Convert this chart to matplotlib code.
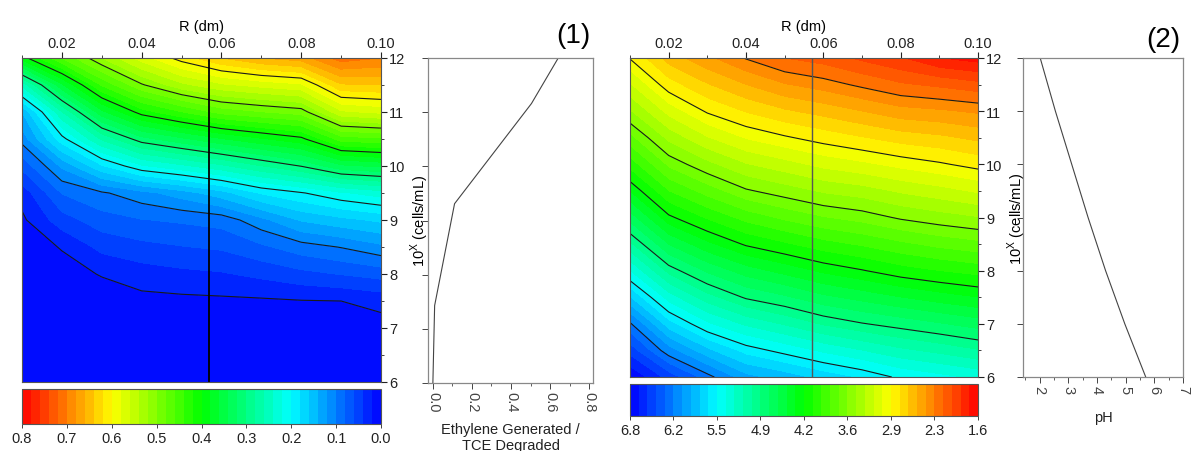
import numpy as np
import matplotlib
matplotlib.use('Agg')
import matplotlib.pyplot as plt
from matplotlib.colors import LinearSegmentedColormap
from matplotlib.ticker import MultipleLocator

plt.rcParams['font.family'] = ['Liberation Sans', 'DejaVu Sans']
plt.rcParams['mathtext.fontset'] = 'custom'
plt.rcParams['mathtext.rm'] = 'Liberation Sans'

# ---------------- data ----------------
R_dm = [0.01, 0.02, 0.03, 0.04, 0.05, 0.06, 0.07, 0.08, 0.09, 0.10]
log_cells = [6.0, 6.5, 7.0, 7.5, 8.0, 8.5, 9.0, 9.5, 10.0, 10.5, 11.0, 11.5, 12.0]

# Panel (1): ethylene generated / TCE degraded (rows = log_cells, cols = R_dm)
ratio_grid = [
    [0.000, 0.000, 0.000, 0.000, 0.000, 0.000, 0.000, 0.000, 0.000, 0.000],
    [0.000, 0.000, 0.002, 0.003, 0.003, 0.003, 0.003, 0.004, 0.004, 0.005],
    [0.001, 0.002, 0.006, 0.008, 0.008, 0.008, 0.009, 0.010, 0.011, 0.012],
    [0.005, 0.008, 0.012, 0.014, 0.015, 0.016, 0.017, 0.019, 0.020, 0.026],
    [0.008, 0.014, 0.021, 0.030, 0.035, 0.038, 0.045, 0.054, 0.061, 0.068],
    [0.012, 0.021, 0.046, 0.054, 0.059, 0.063, 0.076, 0.091, 0.101, 0.115],
    [0.016, 0.051, 0.071, 0.079, 0.083, 0.088, 0.114, 0.142, 0.154, 0.164],
    [0.028, 0.081, 0.097, 0.113, 0.130, 0.152, 0.182, 0.198, 0.217, 0.230],
    [0.066, 0.124, 0.177, 0.217, 0.235, 0.255, 0.279, 0.301, 0.335, 0.344],
    [0.108, 0.192, 0.263, 0.312, 0.335, 0.358, 0.377, 0.394, 0.449, 0.456],
    [0.140, 0.259, 0.354, 0.410, 0.439, 0.467, 0.479, 0.489, 0.556, 0.565],
    [0.246, 0.356, 0.442, 0.497, 0.534, 0.556, 0.567, 0.576, 0.637, 0.640],
    [0.390, 0.460, 0.520, 0.570, 0.610, 0.640, 0.660, 0.670, 0.710, 0.700],
]

# Panel (2): pH (rows = log_cells, cols = R_dm)
ph_grid = [
    [6.78, 6.47, 6.20, 5.92, 5.82, 5.70, 5.60, 5.47, 5.40, 5.33],
    [6.47, 6.07, 5.78, 5.57, 5.45, 5.33, 5.23, 5.13, 5.06, 4.98],
    [6.17, 5.67, 5.38, 5.20, 5.08, 4.95, 4.86, 4.79, 4.72, 4.65],
    [5.75, 5.29, 5.02, 4.83, 4.73, 4.61, 4.53, 4.45, 4.38, 4.32],
    [5.35, 4.92, 4.68, 4.51, 4.40, 4.29, 4.21, 4.12, 4.06, 4.01],
    [4.99, 4.57, 4.35, 4.18, 4.08, 3.98, 3.91, 3.83, 3.76, 3.71],
    [4.64, 4.23, 4.04, 3.88, 3.77, 3.68, 3.62, 3.53, 3.47, 3.42],
    [4.31, 3.93, 3.74, 3.57, 3.48, 3.39, 3.34, 3.26, 3.20, 3.13],
    [4.00, 3.64, 3.45, 3.29, 3.20, 3.11, 3.05, 2.98, 2.92, 2.85],
    [3.71, 3.37, 3.16, 3.01, 2.92, 2.84, 2.77, 2.70, 2.66, 2.60],
    [3.42, 3.10, 2.88, 2.75, 2.65, 2.58, 2.50, 2.42, 2.39, 2.35],
    [3.16, 2.82, 2.64, 2.50, 2.38, 2.31, 2.22, 2.13, 2.08, 2.02],
    [2.89, 2.57, 2.40, 2.24, 2.11, 2.05, 1.95, 1.86, 1.72, 1.66],
]

# Profiles along R = 0.057 dm
R_profile = 0.057
profile1_cells = [6.0, 7.43, 9.31, 11.16, 12.0]
profile1_ratio = [0.0, 0.009, 0.111, 0.505, 0.642]
profile2_cells = [6.0, 7.0, 8.0, 9.0, 10.0, 11.0, 12.0]
profile2_ph = [5.70, 4.97, 4.30, 3.69, 3.12, 2.55, 2.02]

# colour-scale settings
ratio_fill_levels = np.linspace(0.0, 0.8, 41)
ratio_line_levels = [0.02, 0.1, 0.2, 0.3, 0.4, 0.5, 0.6]
ratio_cbar_ticks = [0.8, 0.7, 0.6, 0.5, 0.4, 0.3, 0.2, 0.1, 0.0]
ratio_cbar_labels = ['0.8', '0.7', '0.6', '0.5', '0.4', '0.3', '0.2', '0.1', '0.0']

ph_fill_levels = np.linspace(1.6, 6.8, 41)
ph_line_levels = [2.25, 2.9, 3.55, 4.2, 4.85, 5.5, 6.15]
ph_cbar_ticks = [6.8, 6.15, 5.5, 4.85, 4.2, 3.55, 2.9, 2.25, 1.6]
ph_cbar_labels = ['6.8', '6.2', '5.5', '4.9', '4.2', '3.6', '2.9', '2.3', '1.6']

R_ticks = [0.02, 0.04, 0.06, 0.08, 0.10]
R_labels = ['0.02', '0.04', '0.06', '0.08', '0.10']
cell_ticks = [6, 7, 8, 9, 10, 11, 12]

# ---------------- figure ----------------
W, H = 1193, 452
fig = plt.figure(figsize=(W / 100, H / 100), dpi=100)

rainbow = LinearSegmentedColormap.from_list(
    'rb', ['#0000ff', '#00ffff', '#00ff00', '#ffff00', '#ff0000'])

FS = 10.5
ylab = '10$^{\\mathregular{X}}$ (cells/mL)'


def px_axes(x0, y0, x1, y1):
    return fig.add_axes([x0 / W, 1 - y1 / H, (x1 - x0) / W, (y1 - y0) / H])


def style_contour_axes(ax, vline_color, vline_lw):
    ax.axvline(R_profile, color=vline_color, lw=vline_lw)
    ax.set_xlim(0.01, 0.10)
    ax.set_ylim(6, 12)
    ax.xaxis.tick_top()
    ax.xaxis.set_label_position('top')
    ax.set_xticks(R_ticks)
    ax.set_xticklabels(R_labels)
    ax.xaxis.set_minor_locator(MultipleLocator(0.01))
    ax.set_xlabel('R (dm)', fontsize=FS, labelpad=4)
    ax.yaxis.tick_right()
    ax.yaxis.set_label_position('right')
    ax.set_yticks(cell_ticks)
    ax.yaxis.set_minor_locator(MultipleLocator(0.5))
    ax.set_ylabel(ylab, fontsize=FS, labelpad=2)
    ax.tick_params(which='both', direction='out', labelsize=FS, colors='#222222',
                   top=True, bottom=False, left=False, right=True)
    ax.tick_params(which='major', length=4, width=0.8, pad=2)
    ax.tick_params(which='minor', length=2.5, width=0.6)
    for s in ax.spines.values():
        s.set_color('#555555')
        s.set_linewidth(0.8)


def style_side_axes(ax, xlim, xticks, xlabels, minor, xlabel, lpad):
    ax.set_ylim(6, 12)
    ax.set_xlim(*xlim)
    ax.set_yticks(cell_ticks)
    ax.set_yticklabels([])
    ax.set_xticks(xticks)
    ax.set_xticklabels(xlabels, rotation=-90)
    ax.xaxis.set_minor_locator(MultipleLocator(minor))
    ax.tick_params(which='both', direction='out', labelsize=FS, colors='#444444')
    ax.tick_params(which='major', length=4, width=0.7, pad=2)
    ax.tick_params(which='minor', length=2.5, width=0.6)
    ax.set_xlabel(xlabel, fontsize=FS, labelpad=lpad, color='#222222')
    for s in ax.spines.values():
        s.set_color('#888888')
        s.set_linewidth(0.9)


# ---- panel (1) ----
ax1 = px_axes(22, 59, 381, 383)
cf1 = ax1.contourf(R_dm, log_cells, ratio_grid, levels=ratio_fill_levels,
                   cmap=rainbow, extend='neither')
ax1.contour(R_dm, log_cells, ratio_grid, levels=ratio_line_levels,
            colors='#1a1a1a', linewidths=0.8)
style_contour_axes(ax1, 'black', 1.3)

cax1 = px_axes(22, 390, 381, 425)
cb1 = fig.colorbar(cf1, cax=cax1, orientation='horizontal')
cb1.set_ticks(ratio_cbar_ticks, labels=ratio_cbar_labels)
cax1.invert_xaxis()
cax1.tick_params(labelsize=FS, length=3, width=0.6, pad=2, colors='#222222')
cb1.outline.set_edgecolor('#555555')
cb1.outline.set_linewidth(0.8)

side1 = px_axes(428, 59, 593, 384)
side1.plot(profile1_ratio, profile1_cells, color='#444444', lw=0.8)
style_side_axes(side1, (-0.025, 0.82), [0.0, 0.2, 0.4, 0.6, 0.8],
                ['0.0', '0.2', '0.4', '0.6', '0.8'], 0.1,
                'Ethylene Generated /\nTCE Degraded', 7)
fig.text(573 / W, 1 - 36 / H, '(1)', fontsize=20, ha='center', va='center')

# ---- panel (2) ----
ax2 = px_axes(630, 59, 978, 378)
cf2 = ax2.contourf(R_dm, log_cells, ph_grid, levels=ph_fill_levels,
                   cmap=rainbow.reversed())
ax2.contour(R_dm, log_cells, ph_grid, levels=ph_line_levels,
            colors='#1a1a1a', linewidths=0.8)
style_contour_axes(ax2, '#555555', 1.0)

cax2 = px_axes(630, 385, 978, 417)
cb2 = fig.colorbar(cf2, cax=cax2, orientation='horizontal')
cb2.set_ticks(ph_cbar_ticks, labels=ph_cbar_labels)
cax2.invert_xaxis()
cax2.tick_params(labelsize=FS, length=3, width=0.6, pad=2, colors='#222222')
cb2.outline.set_edgecolor('#555555')
cb2.outline.set_linewidth(0.8)

side2 = px_axes(1023, 59, 1183, 378)
side2.plot(profile2_ph, profile2_cells, color='#444444', lw=0.8)
style_side_axes(side2, (1.42, 7.0), [2, 3, 4, 5, 6, 7],
                ['2', '3', '4', '5', '6', '7'], 0.5, 'pH', 12)
fig.text(1163 / W, 1 - 40 / H, '(2)', fontsize=20, ha='center', va='center')

fig.savefig('out.png', dpi=100)
